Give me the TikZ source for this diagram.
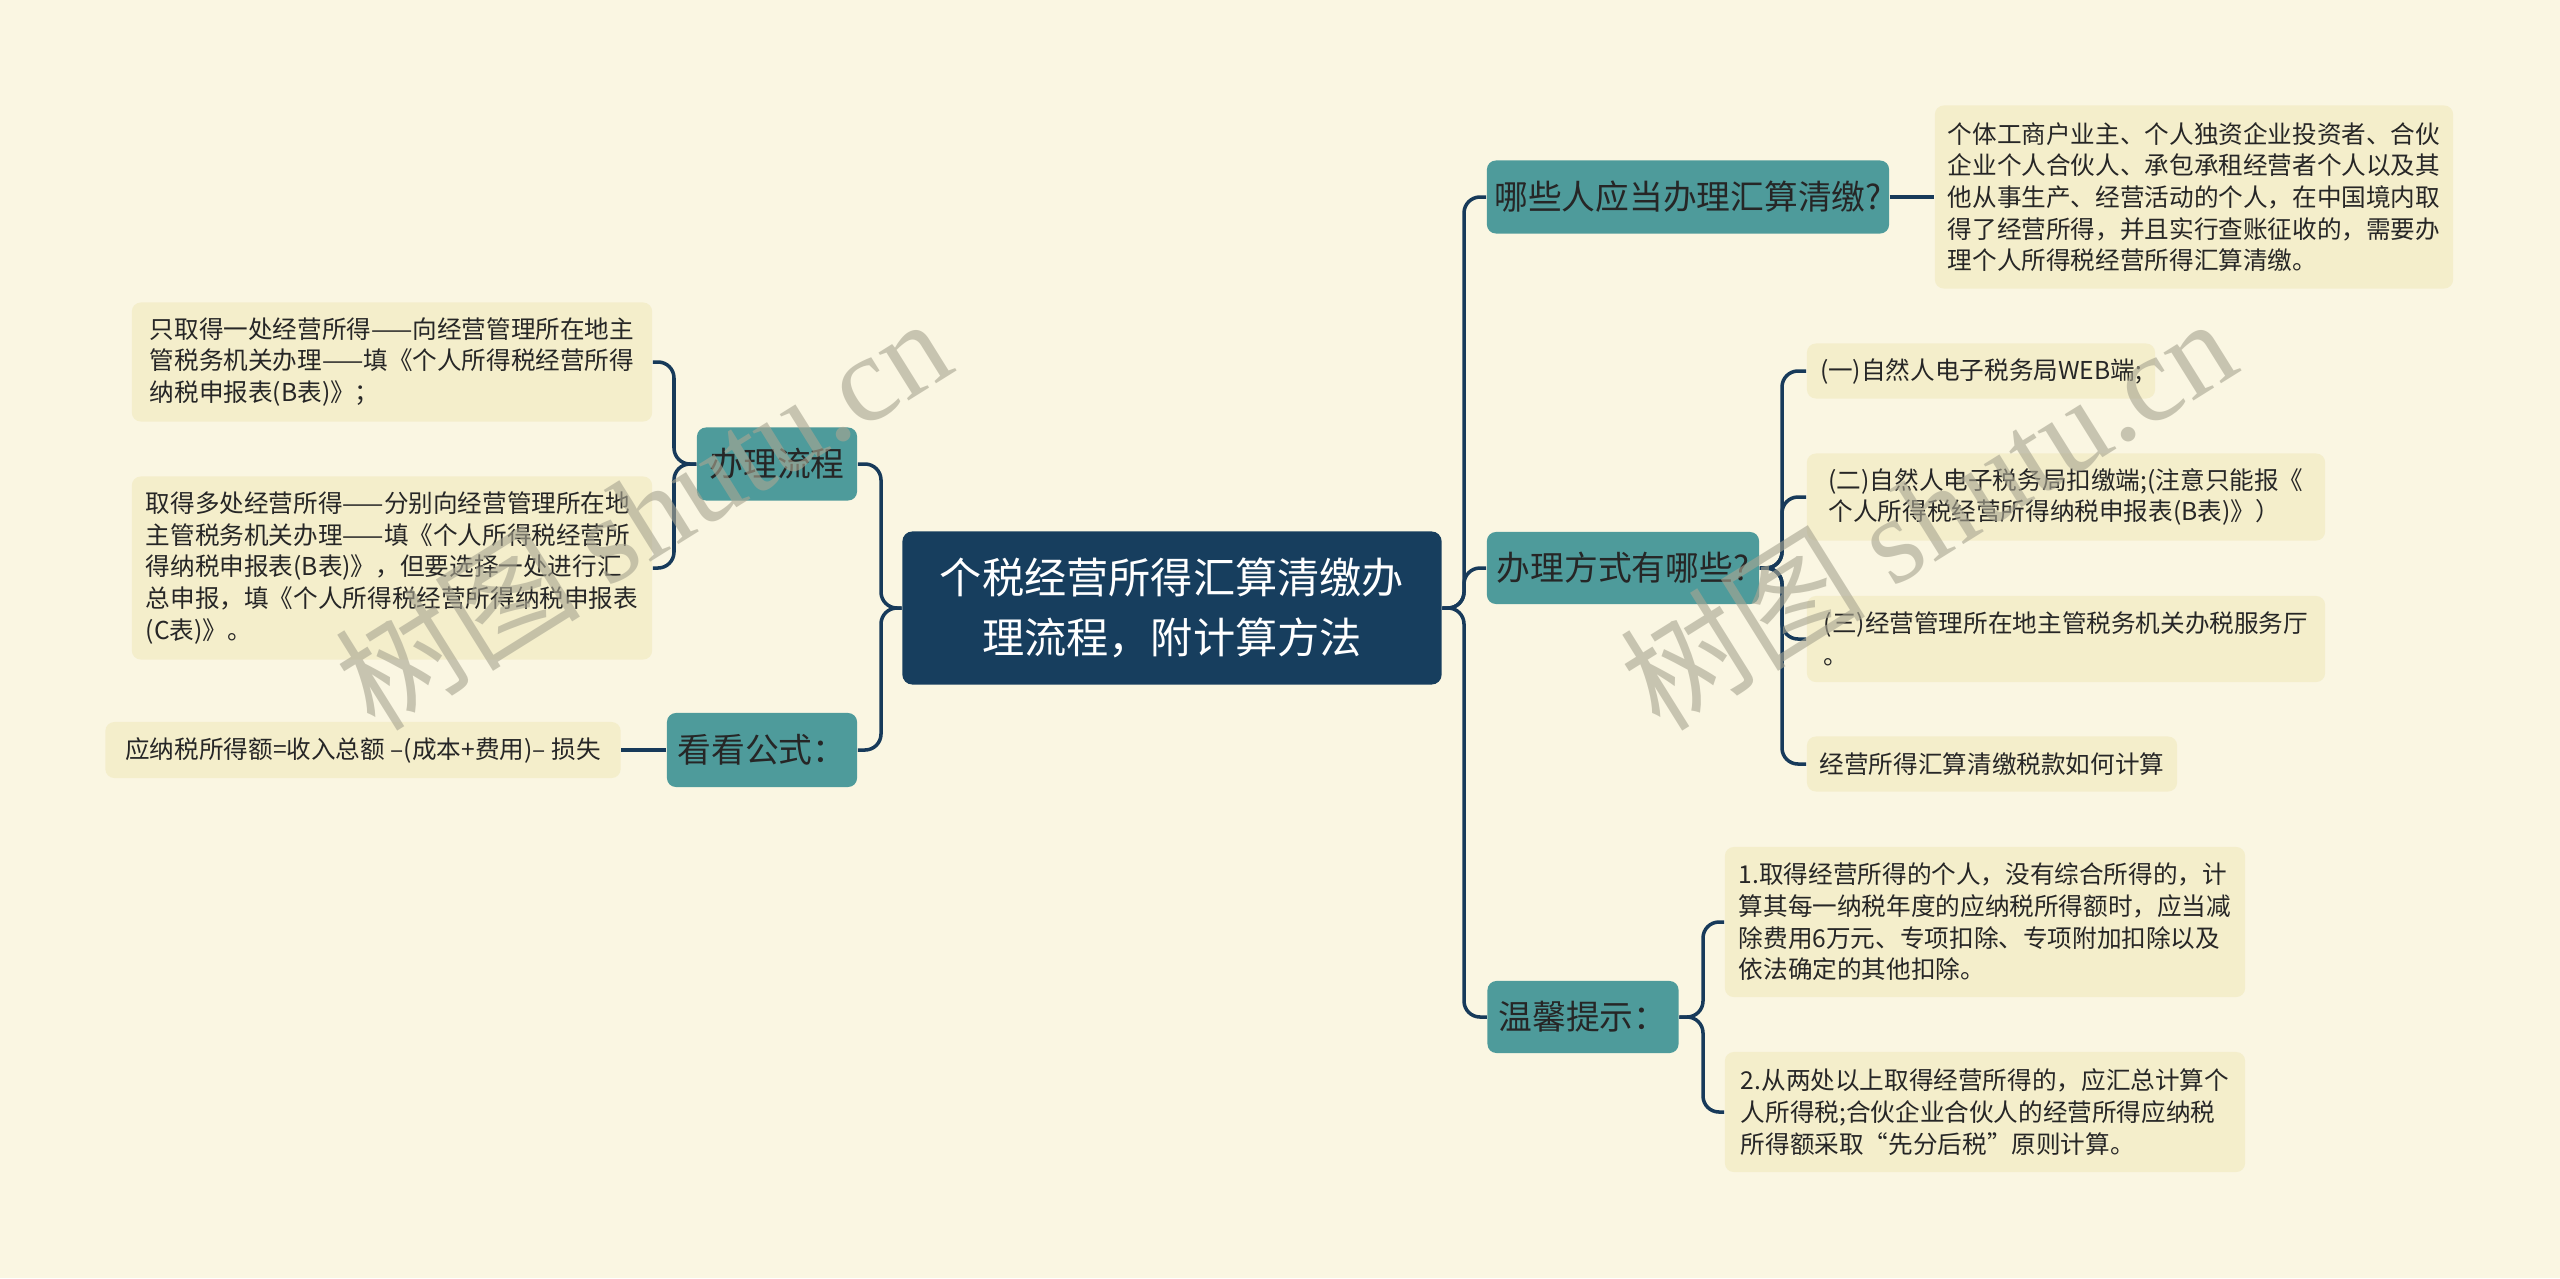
\documentclass[tikz,border=0pt]{standalone}
\usepackage{fontspec}
\setmainfont{Noto Sans CJK SC}
\newfontfamily\wmfont{Liberation Serif}
\usetikzlibrary{positioning,calc}

\definecolor{bgcol}{HTML}{FAF6E2}
\definecolor{rootcol}{HTML}{173E5E}
\definecolor{midcol}{HTML}{4E9B9B}
\definecolor{leafcol}{HTML}{F4EECB}
\definecolor{linecol}{HTML}{173A5A}
\definecolor{txtcol}{HTML}{262626}
\definecolor{wmcol}{HTML}{A9A692}

\tikzset{
  wh/.style 2 args={minimum width=#1cm, minimum height=#2cm},
  rootbox/.style={fill=rootcol, text=white, rounded corners=0.1cm, align=center, inner sep=0pt, font=\fontsize{12pt}{17pt}\selectfont},
  midbox/.style={fill=midcol, text=txtcol, rounded corners=0.09cm, align=center, inner sep=0pt, font=\fontsize{9.6pt}{12pt}\selectfont},
  leafbox/.style={fill=leafcol, text=txtcol, rounded corners=0.09cm, align=left, inner sep=0pt, font=\fontsize{7pt}{9pt}\selectfont},
  link/.style={draw=linecol, line width=1pt, rounded corners=0.16cm},
  wmark/.style={text=wmcol, opacity=0.62, rotate=32, font=\fontsize{35pt}{35pt}\selectfont},
}

\begin{document}
\begin{tikzpicture}[x=0.01cm, y=-0.01cm]
    % Background
    \fill[bgcol] (0,0) rectangle (2560,1278);

    % Root
    \node[rootbox, wh={5.39}{1.53}] (root) at (1172,608) {个税经营所得汇算清缴办\\理流程，附计算方法};

    % Right side
    \node[midbox, wh={4.02}{0.73}] (who) at (1688,197) {哪些人应当办理汇算清缴?};
    \node[midbox, wh={2.72}{0.72}] (how) at (1623,568) {办理方式有哪些?};
    \node[midbox, wh={1.91}{0.72}] (tip) at (1583,1017) {温馨提示：};

    \node[leafbox, wh={5.18}{1.83}] (who1) at (2194,197) {个体工商户业主、个人独资企业投资者、合伙\\企业个人合伙人、承包承租经营者个人以及其\\他从事生产、经营活动的个人，在中国境内取\\得了经营所得，并且实行查账征收的，需要办\\理个人所得税经营所得汇算清缴。};

    \node[leafbox, wh={3.48}{0.55}] (how1) at (1981,371) {(一)自然人电子税务局WEB端;};
    \node[leafbox, wh={5.18}{0.87}] (how2) at (2066,497) {(二)自然人电子税务局扣缴端;(注意只能报《\\个人所得税经营所得纳税申报表(B表)》）};
    \node[leafbox, wh={5.18}{0.86}] (how3) at (2066,639) {(三)经营管理所在地主管税务机关办税服务厅\\。};
    \node[leafbox, wh={3.70}{0.55}] (how4) at (1992,764) {经营所得汇算清缴税款如何计算};

    \node[leafbox, wh={5.20}{1.50}] (tip1) at (1985,922) {1.取得经营所得的个人，没有综合所得的，计\\算其每一纳税年度的应纳税所得额时，应当减\\除费用6万元、专项扣除、专项附加扣除以及\\依法确定的其他扣除。};
    \node[leafbox, wh={5.20}{1.20}] (tip2) at (1985,1112) {2.从两处以上取得经营所得的，应汇总计算个\\人所得税;合伙企业合伙人的经营所得应纳税\\所得额采取“先分后税”原则计算。};

    % Left side
    \node[midbox, wh={1.60}{0.73}] (flow) at (777,464) {办理流程};
    \node[midbox, wh={1.90}{0.74}] (calc) at (762,750) {看看公式：};

    \node[leafbox, wh={5.20}{1.19}] (flow1) at (392,362) {只取得一处经营所得——向经营管理所在地主\\管税务机关办理——填《个人所得税经营所得\\纳税申报表(B表)》；};
    \node[leafbox, wh={5.20}{1.83}] (flow2) at (392,568) {取得多处经营所得——分别向经营管理所在地\\主管税务机关办理——填《个人所得税经营所\\得纳税申报表(B表)》，但要选择一处进行汇\\总申报，填《个人所得税经营所得纳税申报表\\(C表)》。};
    \node[leafbox, wh={5.15}{0.56}] (calc1) at (363,750) {应纳税所得额=收入总额 –(成本+费用)– 损失};

    % Connectors
    \coordinate (rj) at (1464,608);
    \coordinate (lj) at (881,608);
    \foreach \n in {who,how,tip} \draw[link] (root.east) -- (rj) |- (\n.west);
    \foreach \n in {flow,calc} \draw[link] (root.west) -- (lj) |- (\n.east);

    \draw[link] (who.east) -- (who1.west);
    \coordinate (hj) at (1782,568);
    \foreach \n in {how1,how2,how3,how4} \draw[link] (how.east) -- (hj) |- (\n.west);
    \coordinate (tj) at (1703,1017);
    \foreach \n in {tip1,tip2} \draw[link] (tip.east) -- (tj) |- (\n.west);
    \coordinate (fj) at (674,464);
    \foreach \n in {flow1,flow2} \draw[link] (flow.west) -- (fj) |- (\n.east);
    \draw[link] (calc.west) -- (calc1.east);

    % Watermarks
    \node[wmark] (wmL) at (642,512) {树图 {\wmfont shutu.cn}};
    \node[wmark] (wmR) at (1927,512) {树图 {\wmfont shutu.cn}};
\end{tikzpicture}
\end{document}
